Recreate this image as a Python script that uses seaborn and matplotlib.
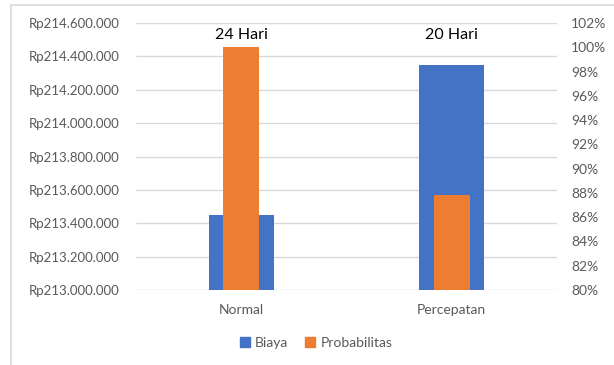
import matplotlib.pyplot as plt
import matplotlib.ticker as mticker
from matplotlib.patches import Patch, Rectangle
import seaborn as sns
import pandas as pd

categories = ['Normal', 'Percepatan']
biaya = [213450000, 214350000]
probabilitas = [100.0, 87.8]
durasi = ['24 Hari', '20 Hari']

blue = '#4472C4'
orange = '#ED7D31'
grey = '#595959'

sns.set_theme(style='white')
plt.rcParams['font.family'] = ['Lato', 'DejaVu Sans']

df = pd.DataFrame({'kategori': categories, 'biaya': biaya, 'prob': probabilitas})

fig = plt.figure(figsize=(6.14, 3.65), dpi=100)
ax = fig.add_axes([136/614, 1 - 290/365, 421/614, 267/365])

# chart border like the Excel frame
fig.patches.append(Rectangle((11/614, -0.1), 1.0, 1 - 5/365 + 0.1, transform=fig.transFigure,
                             fill=False, edgecolor='#d9d9d9', linewidth=1.2))

sns.barplot(data=df, x='kategori', y='biaya', color=blue, width=0.31,
            saturation=1, linewidth=0, ax=ax, zorder=2)
ax.set_ylim(213000000, 214600000)
ax.yaxis.set_major_locator(mticker.MultipleLocator(200000))
ax.yaxis.set_major_formatter(mticker.FuncFormatter(
    lambda v, p: 'Rp' + f'{v:,.0f}'.replace(',', '.')))
ax.grid(axis='y', color='#d9d9d9', linewidth=1, zorder=0)
ax.set_axisbelow(True)

ax2 = ax.twinx()
sns.barplot(data=df, x='kategori', y='prob', color=orange, width=0.17,
            saturation=1, linewidth=0, ax=ax2, zorder=3)
ax2.set_ylim(80, 102)
ax2.yaxis.set_major_locator(mticker.MultipleLocator(2))
ax2.yaxis.set_major_formatter(mticker.FuncFormatter(lambda v, p: f'{v:.0f}%'))
ax.set_xlim(-0.5, 1.5)

for a in (ax, ax2):
    for s in a.spines.values():
        s.set_visible(False)
    a.set_xlabel('')
    a.set_ylabel('')
    a.tick_params(length=0, labelsize=10, colors=grey)
ax.tick_params(axis='y', pad=12, labelsize=9.5)
ax.tick_params(axis='x', pad=10)
ax2.tick_params(axis='y', pad=10)

for i, d in enumerate(durasi):
    ax2.text(i, 101, d, ha='center', va='center', fontsize=11.5, color='black')

handles = [Patch(color=blue, label='Biaya'), Patch(color=orange, label='Probabilitas')]
leg = fig.legend(handles=handles, loc='center', bbox_to_anchor=(316/614, 1 - 343/365),
                 ncol=2, frameon=False, fontsize=10, handlelength=0.7, handleheight=0.7,
                 handletextpad=0.4, columnspacing=1.2)
for t in leg.get_texts():
    t.set_color(grey)

fig.savefig('out.png', dpi=100)
